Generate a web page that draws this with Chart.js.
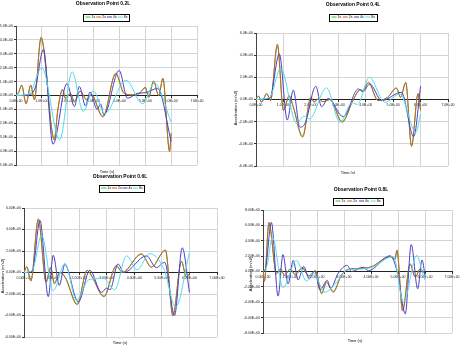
<!DOCTYPE html>
<html><head><meta charset="utf-8">
<script src="https://cdn.jsdelivr.net/npm/chart.js@4/dist/chart.umd.min.js"></script>
<style>
html,body{margin:0;padding:0;background:#fff;width:460px;height:348px;overflow:hidden}
canvas{position:absolute}
</style></head><body>
<canvas id="c1" width="230" height="174" style="left:0;top:0"></canvas>
<canvas id="c2" width="230" height="174" style="left:230px;top:0"></canvas>
<canvas id="c3" width="230" height="174" style="left:0;top:174px"></canvas>
<canvas id="c4" width="230" height="174" style="left:230px;top:174px"></canvas>
<script>
const seriesNames = ['1s', '2s', '4s', '8s'];
const seriesColors = ['#3fbf3f', '#c8602a', '#4a3fc8', '#4fdcec'];
const titles = ['Observation Point 0.2L', 'Observation Point 0.4L', 'Observation Point 0.6L', 'Observation Point 0.8L'];
const xTitle = 'Time (s)';
const yTitle = 'Acceleration (m/s2)';
const xTickLabels = ['0.0E+00', '1.0E+00', '2.0E+00', '3.0E+00', '4.0E+00', '5.0E+00', '6.0E+00', '7.0E+00'];
const xTickLabels2 = ['0.00E+00', '1.00E+00', '2.00E+00', '3.00E+00', '4.00E+00', '5.00E+00', '6.00E+00', '7.00E+00'];
const yTicks1 = ['-5.0E+00', '-4.0E+00', '-3.0E+00', '-2.0E+00', '-1.0E+00', '0.0E+00', '1.0E+00', '2.0E+00', '3.0E+00', '4.0E+00', '5.0E+00'];
const yTicks2 = ['-6.0E+00', '-4.0E+00', '-2.0E+00', '0.0E+00', '2.0E+00', '4.0E+00', '6.0E+00'];
const yTicks3 = ['-6.00E+00', '-4.00E+00', '-2.00E+00', '0.00E+00', '2.00E+00', '4.00E+00', '6.00E+00'];
const yTicks4 = ['-8.00E+00', '-6.00E+00', '-4.00E+00', '-2.00E+00', '0.00E+00', '2.00E+00', '4.00E+00', '6.00E+00', '8.00E+00'];

// Panel 1
const p1_t_1s = [0, 0.1, 0.22, 0.39, 0.57, 0.71, 0.97, 1.48, 1.62, 1.8, 1.92, 2.1, 2.26, 2.48, 2.75, 2.9, 3.36, 3.86, 4.18, 4.5, 4.8, 5.0, 5.13, 5.32, 5.52, 5.68, 5.94, 6.0];
const p1_a_1s = [0, 0.2, 0.72, -0.55, 0.72, -0.3, 4.1, -3.1, -1.0, 0.4, -0.2, 0.15, -0.4, 0.3, -0.3, 0.1, -1.5, 1.55, 0.15, 0.05, 0.2, 0.55, -0.1, 1.0, 0.0, 1.2, -3.95, -2.7];
const p1_t_2s = [0, 0.1, 0.22, 0.39, 0.57, 0.71, 0.97, 1.48, 1.62, 1.8, 1.92, 2.1, 2.26, 2.48, 2.75, 2.9, 3.36, 3.86, 4.18, 4.5, 4.8, 5.0, 5.13, 5.32, 5.52, 5.68, 5.94, 6.0];
const p1_a_2s = [0, 0.2, 0.76, -0.6, 0.76, -0.3, 4.2, -3.2, -1.0, 0.45, -0.25, 0.15, -0.45, 0.3, -0.35, 0.1, -1.55, 1.6, 0.15, 0.05, 0.2, 0.6, -0.15, 1.05, 0.0, 1.25, -4.05, -2.75];
const p1_t_4s = [0, 0.5, 0.75, 1.06, 1.43, 1.97, 2.26, 2.45, 2.69, 2.86, 3.14, 3.27, 3.4, 3.99, 4.31, 4.7, 5.0, 5.48, 6.0];
const p1_a_4s = [0, 0.05, 0.6, 3.3, -3.5, 0.85, -0.8, 0.65, -0.75, 0.25, -1.0, -0.6, -1.4, 1.8, -0.2, 0.15, 0.2, 0.5, -3.3];
const p1_t_8s = [0, 0.5, 1.0, 1.69, 2.17, 2.6, 2.99, 3.43, 4.25, 4.9, 5.35, 6.0];
const p1_a_8s = [0, 0.1, 2.0, -3.2, 1.7, -1.15, 0.35, -1.3, 1.1, -0.6, 0.9, -1.9];

// Panel 2
const p2_t_1s = [0, 0.1, 0.2, 0.39, 0.53, 0.78, 1.0, 1.21, 1.36, 1.7, 2.0, 2.12, 2.27, 2.45, 2.7, 3.14, 3.55, 3.8, 3.9, 4.1, 4.45, 4.8, 5.12, 5.27, 5.46, 5.67, 5.91, 6.0];
const p2_a_1s = [0.1, 0.28, -0.22, 0.5, -0.1, 4.85, -0.95, 0.3, -0.65, -3.3, 0.2, -0.2, 0.05, -0.2, 0.0, -2.0, 0.0, 0.85, 0.8, 1.5, -0.1, 0.2, 1.0, 0.2, 1.5, -4.15, 0.5, -0.95];
const p2_t_2s = [0, 0.1, 0.2, 0.39, 0.53, 0.78, 1.0, 1.21, 1.36, 1.7, 2.0, 2.12, 2.27, 2.45, 2.7, 3.14, 3.55, 3.8, 3.9, 4.1, 4.45, 4.8, 5.12, 5.27, 5.46, 5.67, 5.91, 6.0];
const p2_a_2s = [0.1, 0.3, -0.25, 0.55, -0.1, 5.0, -1.0, 0.35, -0.7, -3.4, 0.2, -0.25, 0.05, -0.2, 0.0, -2.05, 0.0, 0.9, 0.8, 1.55, -0.1, 0.2, 1.05, 0.2, 1.55, -4.25, 0.55, -1.0];
const p2_t_4s = [0, 0.5, 0.85, 1.14, 1.36, 1.6, 1.8, 2.18, 2.39, 2.63, 3.18, 3.73, 3.9, 4.15, 4.58, 5.3, 5.75, 6.0];
const p2_a_4s = [0, 0.1, 4.1, -1.85, 0.85, -2.5, -2.1, 1.2, -0.65, 0.1, -1.55, 0.95, 0.7, 1.4, -0.1, 0.65, -3.35, 1.2];
const p2_t_8s = [0, 0.5, 0.9, 1.48, 1.75, 1.95, 2.57, 3.06, 3.5, 3.7, 4.13, 4.7, 5.24, 5.83, 6.0];
const p2_a_8s = [0, 0.2, 2.8, -2.15, -1.5, -1.75, 1.05, -2.05, -0.3, -0.45, 2.0, -0.25, 0.5, -2.95, -1.3];

// Panel 3
const p3_t_1s = [0, 0.1, 0.25, 0.52, 0.8, 0.97, 1.1, 1.3, 1.5, 1.93, 2.29, 2.45, 2.9, 3.35, 3.57, 4.26, 4.62, 5.13, 5.4, 5.71, 5.89, 6.0];
const p3_a_1s = [0, 0.5, -0.75, 4.9, -0.85, 0.45, -1.0, 0.0, -0.45, -2.9, 0.2, -0.3, -2.2, 0.6, 0.0, 1.7, 0.5, 2.05, -3.95, 1.0, -0.4, -0.1];
const p3_t_2s = [0, 0.1, 0.25, 0.52, 0.8, 0.97, 1.1, 1.3, 1.5, 1.93, 2.29, 2.45, 2.9, 3.35, 3.57, 4.26, 4.62, 5.13, 5.4, 5.71, 5.89, 6.0];
const p3_a_2s = [0, 0.55, -0.8, 5.0, -0.9, 0.5, -1.05, 0.0, -0.5, -3.0, 0.2, -0.3, -2.25, 0.65, 0.0, 1.75, 0.5, 2.1, -4.05, 1.05, -0.45, -0.1];
const p3_t_4s = [0, 0.3, 0.58, 0.88, 1.06, 1.28, 1.48, 1.97, 2.39, 2.81, 3.0, 3.12, 3.41, 3.62, 4.44, 4.8, 5.1, 5.46, 5.74, 6.0];
const p3_a_4s = [0, 0.1, 4.85, -2.25, 1.6, -1.2, 0.75, -2.75, 0.2, -1.85, -1.45, -1.6, 0.8, 0.0, 1.55, 0.45, 0.95, -4.0, 2.3, -1.85];
const p3_t_8s = [0, 0.3, 0.64, 1.06, 1.48, 1.91, 2.33, 2.6, 2.87, 3.29, 3.72, 4.1, 4.56, 5.07, 5.5, 6.0];
const p3_a_8s = [0, 0.2, 3.45, -1.7, 0.85, -2.6, -0.7, -0.6, -0.5, -1.6, 1.55, 0.25, 1.75, 0.35, -3.2, 1.85];

// Panel 4
const p4_t_1s = [0, 0.05, 0.22, 0.5, 0.64, 0.8, 1.0, 1.2, 1.45, 1.7, 1.95, 2.17, 2.35, 2.6, 2.9, 3.1, 3.5, 4.0, 4.71, 4.89, 4.96, 5.17, 5.45, 5.64, 5.82, 6.0];
const p4_a_1s = [0, -1.2, 6.2, -0.3, 0.3, -0.5, 0.3, -0.4, 0.45, -0.55, 0.1, -2.8, -1.4, -2.6, -0.5, 0.2, 0.4, 0.6, 1.9, 1.6, 2.7, -5.0, 0.95, -0.7, 0.3, -0.3];
const p4_t_2s = [0, 0.05, 0.22, 0.5, 0.64, 0.8, 1.0, 1.2, 1.45, 1.7, 1.95, 2.17, 2.35, 2.6, 2.9, 3.1, 3.5, 4.0, 4.71, 4.89, 4.96, 5.17, 5.45, 5.64, 5.82, 6.0];
const p4_a_2s = [0, -1.3, 6.4, -0.3, 0.35, -0.5, 0.3, -0.4, 0.5, -0.6, 0.1, -2.9, -1.4, -2.7, -0.5, 0.2, 0.4, 0.6, 1.95, 1.65, 2.8, -5.15, 1.0, -0.75, 0.35, -0.3];
const p4_t_4s = [0, 0.1, 0.31, 0.56, 0.74, 0.93, 1.12, 1.3, 1.51, 1.71, 1.92, 2.11, 2.38, 2.5, 2.79, 3.12, 3.28, 3.72, 3.9, 4.71, 4.99, 5.27, 5.49, 5.73, 5.89, 6.0];
const p4_a_4s = [0, 0.5, 6.4, -3.2, 2.2, -1.6, 1.45, -1.1, 0.65, -0.95, 0.05, -2.4, -1.15, -2.2, -0.2, 0.8, 0.0, 0.55, 0.1, 2.05, -0.3, -5.5, 3.5, -2.25, 1.5, -0.5];
const p4_t_8s = [0, 0.15, 0.35, 0.74, 1.24, 1.61, 1.86, 2.29, 2.7, 3.1, 3.5, 4.0, 4.83, 5.2, 5.7, 5.89, 6.0];
const p4_a_8s = [0, 0.8, 4.45, -2.1, 1.45, -1.25, -0.2, -2.7, -1.5, 0.15, 0.3, 0.5, 1.95, -4.0, 2.1, 0.0, -1.1];

const FONT = 'Liberation Sans, Arial, sans-serif';
Chart.defaults.font.family = FONT;
Chart.defaults.font.size = 4;
Chart.defaults.color = '#222';

function pts(t, a) { return t.map((v, i) => ({x: v, y: a[i]})); }

const panels = [
  {id: 'c1', series: [[p1_t_1s, p1_a_1s], [p1_t_2s, p1_a_2s], [p1_t_4s, p1_a_4s], [p1_t_8s, p1_a_8s]],
   yMin: -5, yMax: 5, yStep: 1, yLabels: yTicks1, xLabels: xTickLabels, yW: 16,
   pad: {left: 0, right: 33, top: 26, bottom: 9}, title: [103, 4], legend: [106, 17, 46], xT: [107, 172], yT: null, ti: 0},
  {id: 'c2', series: [[p2_t_1s, p2_a_1s], [p2_t_2s, p2_a_2s], [p2_t_4s, p2_a_4s], [p2_t_8s, p2_a_8s]],
   yMin: -6, yMax: 6, yStep: 2, yLabels: yTicks2, xLabels: xTickLabels, yW: 26,
   pad: {left: 0, right: 12, top: 33, bottom: 8}, title: [123, 5], legend: [123, 17, 48], xT: [118, 173], yT: [6, 108], ti: 1},
  {id: 'c3', series: [[p3_t_1s, p3_a_1s], [p3_t_2s, p3_a_2s], [p3_t_4s, p3_a_4s], [p3_t_8s, p3_a_8s]],
   yMin: -6, yMax: 6, yStep: 2, yLabels: yTicks3, xLabels: xTickLabels2, yW: 24,
   pad: {left: 0, right: 13, top: 34, bottom: 11}, title: [120, 3], legend: [121, 14, 45], xT: [120, 169], yT: [3, 102], ti: 2},
  {id: 'c4', series: [[p4_t_1s, p4_a_1s], [p4_t_2s, p4_a_2s], [p4_t_4s, p4_a_4s], [p4_t_8s, p4_a_8s]],
   yMin: -8, yMax: 8, yStep: 2, yLabels: yTicks4, xLabels: xTickLabels2, yW: 33,
   pad: {left: 0, right: 8, top: 36, bottom: 15}, title: [131, 16], legend: [128, 27, 50], xT: [125, 167], yT: [21, 100], ti: 3}
];

const decor = {
  id: 'decor',
  afterDraw(chart) {
    const p = chart.options.plugins.decor;
    const ctx = chart.ctx;
    ctx.save();
    ctx.fillStyle = '#000';
    ctx.textAlign = 'center';
    ctx.textBaseline = 'middle';
    ctx.font = 'bold 5px ' + FONT;
    ctx.fillText(titles[p.ti], p.title[0], p.title[1]);
    // legend
    const [cx, cy, w] = p.legend;
    const h = 7, left = Math.round(cx - w / 2) + 0.5, top = Math.round(cy - h / 2) + 0.5;
    ctx.fillStyle = '#fff';
    ctx.fillRect(left, top, w, h);
    ctx.strokeStyle = '#000';
    ctx.lineWidth = 1;
    ctx.strokeRect(left, top, w, h);
    ctx.font = '3.5px ' + FONT;
    ctx.textAlign = 'left';
    const step = (w - 3) / 4;
    seriesNames.forEach((n, i) => {
      const x0 = left + 2 + i * step;
      ctx.strokeStyle = seriesColors[i];
      ctx.beginPath(); ctx.moveTo(x0, cy); ctx.lineTo(x0 + 5, cy); ctx.stroke();
      ctx.fillStyle = '#000';
      ctx.fillText(n, x0 + 6, cy);
    });
    ctx.font = '4px ' + FONT;
    ctx.textAlign = 'center';
    ctx.fillText(xTitle, p.xT[0], p.xT[1]);
    if (p.yT) {
      ctx.translate(p.yT[0], p.yT[1]);
      ctx.rotate(-Math.PI / 2);
      ctx.fillText(yTitle, 0, 0);
    }
    ctx.restore();
  }
};

panels.forEach(P => {
  new Chart(document.getElementById(P.id), {
    type: 'line',
    data: {
      datasets: P.series.map((s, i) => ({
        label: seriesNames[i],
        data: pts(s[0], s[1]),
        borderColor: seriesColors[i],
        borderWidth: 1,
        pointRadius: 0,
        fill: false,
        cubicInterpolationMode: 'monotone',
        order: 4 - i
      }))
    },
    options: {
      responsive: false,
      animation: false,
      devicePixelRatio: 1,
      layout: {padding: P.pad},
      plugins: {legend: {display: false}, title: {display: false}, tooltip: {enabled: false},
        decor: {ti: P.ti, title: P.title, legend: P.legend, xT: P.xT, yT: P.yT}},
      scales: {
        x: {
          type: 'linear', min: 0, max: 7, position: {y: 0},
          ticks: {stepSize: 1, autoSkip: false, maxRotation: 0, padding: 1, font: {size: 3.5},
            callback: (v, i) => P.xLabels[i]},
          grid: {color: '#d4d4d4', lineWidth: 1, tickLength: 2, tickColor: '#333'},
          border: {color: '#222', width: 1},
          afterFit: s => { s.paddingLeft = 0; s.paddingRight = 0; s.height = 0; }
        },
        y: {
          type: 'linear', min: P.yMin, max: P.yMax,
          ticks: {stepSize: P.yStep, autoSkip: false, padding: 1, font: {size: 3.5},
            callback: (v, i) => P.yLabels[i]},
          grid: {color: '#d4d4d4', lineWidth: 1, tickLength: 2, tickColor: '#333'},
          border: {color: '#444', width: 1},
          afterFit: s => { s.width = P.yW; s.paddingTop = 0; s.paddingBottom = 0; }
        }
      }
    },
    plugins: [decor]
  });
});
</script>
</body></html>
